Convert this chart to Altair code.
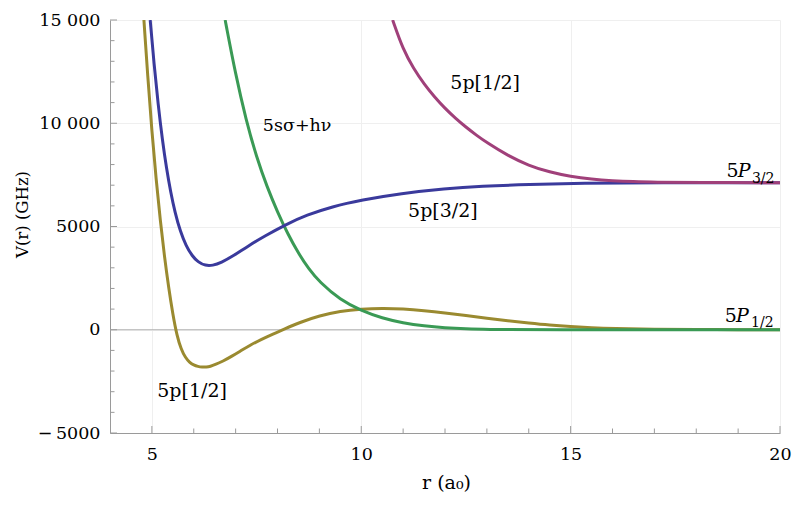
import altair as alt
import pandas as pd

# ---------------- data ----------------
r_olive = [4.81, 4.9, 5.0, 5.1, 5.2, 5.3, 5.4, 5.5, 5.6, 5.7, 5.8, 5.9, 6.0, 6.1, 6.2, 6.3, 6.4, 6.5,
           6.7, 6.9, 7.1, 7.35, 7.6, 7.9, 8.15, 8.55, 9.0, 9.5, 10.0, 10.5, 11.0, 11.5, 12.0, 12.5,
           13.0, 13.5, 14.0, 14.5, 15.0, 15.5, 16.0, 17.0, 18.0, 19.0, 20.0]
v_olive = [15000, 12300, 9600, 7300, 5300, 3550, 2050, 750, -300, -950, -1350, -1580, -1710, -1780,
           -1810, -1810, -1770, -1700, -1520, -1290, -1050, -740, -480, -200, 20, 370, 680, 900, 1000,
           1040, 1010, 930, 820, 690, 560, 430, 320, 220, 150, 100, 65, 25, 10, 3, 0]

r_blue = [4.96, 5.05, 5.15, 5.25, 5.35, 5.45, 5.55, 5.68, 5.82, 5.96, 6.1, 6.28, 6.45, 6.65, 6.95, 7.3,
          7.7, 8.18, 8.7, 9.3, 10.0, 10.95, 12.0, 12.86, 14.0, 15.26, 17.0, 20.0]
v_blue = [15000, 12900, 10900, 9200, 7800, 6650, 5700, 4750, 4050, 3580, 3280, 3100, 3110, 3240, 3580,
          4060, 4540, 5080, 5560, 5960, 6280, 6600, 6830, 6950, 7040, 7095, 7118, 7123]

r_green = [6.75, 7.0, 7.25, 7.5, 7.75, 8.0, 8.25, 8.5, 8.75, 9.0, 9.5, 10.0, 10.5, 11.0, 11.5, 12.0,
           12.5, 13.0, 14.0, 20.0]
v_green = [15000, 12350, 10150, 8350, 6920, 5700, 4620, 3700, 2930, 2320, 1440, 930, 560, 330, 180, 90,
           40, 15, 0, 0]

r_mag = [10.75, 11.0, 11.25, 11.5, 11.75, 12.0, 12.25, 12.5, 12.75, 13.0, 13.5, 14.0, 14.5, 15.0, 15.5,
         16.0, 16.5, 17.0, 18.0, 20.0]
v_mag = [15000, 13560, 12650, 11900, 11270, 10720, 10240, 9810, 9420, 9060, 8430, 7950, 7630, 7420,
         7290, 7215, 7170, 7147, 7129, 7123]

series_names = ["olive", "blue", "green", "magenta"]
series_colors = ["#9a8a30", "#3a3a9c", "#3a9a55", "#a0407a"]

# curve labels
lab_text = ["5p[1/2]", "5p[3/2]", "5p[1/2]"]
lab_r = [12.96, 11.95, 5.96]
lab_v = [11960, 5760, -2950]
photon_text = ["5sσ+hν"]
photon_r = [8.47]
photon_v = [9880]

# asymptote labels 5P_{3/2}, 5P_{1/2}
lvl_num = ["5", "5"]
lvl_num_r = [18.72, 18.68]
lvl_num_v = [7410, 390]
lvl_P = ["P", "P"]
lvl_P_r = [18.99, 18.95]
lvl_sub = ["3/2", "1/2"]
lvl_sub_r = [19.33, 19.31]
lvl_sub_v = [7100, 130]

# ticks
y_major = [-5000, 0, 5000, 10000, 15000]
y_minor = [-4000, -3000, -2000, -1000, 1000, 2000, 3000, 4000, 6000, 7000, 8000, 9000,
           11000, 12000, 13000, 14000]
x_major = [5, 10, 15, 20]
x_minor = [6, 7, 8, 9, 11, 12, 13, 14, 16, 17, 18, 19]

# ---------------- chart ----------------
FONT = "DejaVu Serif"
W, H = 670, 413
xs = alt.Scale(domain=[4, 20], nice=False, zero=False)
ys = alt.Scale(domain=[-5000, 15000], nice=False, zero=False)

AX = "#9a9a9a"
GRID = "#efefef"

x_axis = alt.Axis(values=x_major, ticks=False, labelFont=FONT, labelFontSize=17.5, labelColor="black",
                  labelFontWeight="normal",
                  labelPadding=12, labelFlush=False, domainColor=AX, gridColor=GRID,
                  title="r (a₀)", titleFont=FONT, titleFontSize=19, titleFontWeight="normal",
                  titleColor="black", titleX=336, titleY=55, titleBaseline="alphabetic",
                  titleAlign="center")
y_axis = alt.Axis(values=y_major, ticks=False, labelFont=FONT, labelFontSize=17.5, labelColor="black",
                  labelFontWeight="normal",
                  labelPadding=10, domainColor=AX, gridColor=GRID,
                  labelExpr="datum.value == 15000 ? '15 000' : datum.value == 10000 ? '10 000' : "
                            "datum.value == -5000 ? '\u2212\u20095000' : datum.value == 5000 ? '5000' : '0'",
                  title="V(r) (GHz)", titleFont=FONT, titleFontSize=16.5, titleFontWeight="normal",
                  titleColor="black", titleX=-88, titleY=194, titleBaseline="middle", titleAlign="center")


def curve(name, rs, vs):
    df = pd.DataFrame({"r": rs, "V": vs, "series": name})
    return alt.Chart(df).mark_line(strokeWidth=3, interpolate="basis", clip=True).encode(
        x=alt.X("r:Q", scale=xs, axis=x_axis),
        y=alt.Y("V:Q", scale=ys, axis=y_axis),
        color=alt.Color("series:N", scale=alt.Scale(domain=series_names, range=series_colors),
                        legend=None),
    )


zero_line = alt.Chart(pd.DataFrame({"V": [0]})).mark_rule(color="#b0b0b0", strokeWidth=1).encode(
    y=alt.Y("V:Q", scale=ys), x=alt.value(0), x2=alt.value(W))

ytick_maj = alt.Chart(pd.DataFrame({"V": y_major})).mark_rule(color=AX, strokeWidth=1).encode(
    y=alt.Y("V:Q", scale=ys), x=alt.value(0), x2=alt.value(7))
ytick_min = alt.Chart(pd.DataFrame({"V": y_minor})).mark_rule(color=AX, strokeWidth=1).encode(
    y=alt.Y("V:Q", scale=ys), x=alt.value(0), x2=alt.value(4.5))
xtick_maj = alt.Chart(pd.DataFrame({"r": x_major})).mark_rule(color=AX, strokeWidth=1).encode(
    x=alt.X("r:Q", scale=xs), y=alt.value(H), y2=alt.value(H - 7))
xtick_min = alt.Chart(pd.DataFrame({"r": x_minor})).mark_rule(color=AX, strokeWidth=1).encode(
    x=alt.X("r:Q", scale=xs), y=alt.value(H), y2=alt.value(H - 4.5))

labels = alt.Chart(pd.DataFrame({"r": lab_r, "V": lab_v, "t": lab_text})).mark_text(
    font=FONT, fontSize=19, color="black", align="center", baseline="middle").encode(
    x=alt.X("r:Q", scale=xs), y=alt.Y("V:Q", scale=ys), text="t:N")
photon = alt.Chart(pd.DataFrame({"r": photon_r, "V": photon_v, "t": photon_text})).mark_text(
    font=FONT, fontSize=17.5, color="black", align="center", baseline="middle").encode(
    x=alt.X("r:Q", scale=xs), y=alt.Y("V:Q", scale=ys), text="t:N")

lvl5 = alt.Chart(pd.DataFrame({"r": lvl_num_r, "V": lvl_num_v, "t": lvl_num})).mark_text(
    font=FONT, fontSize=19, color="black", align="left", baseline="alphabetic").encode(
    x=alt.X("r:Q", scale=xs), y=alt.Y("V:Q", scale=ys), text="t:N")
lvlP = alt.Chart(pd.DataFrame({"r": lvl_P_r, "V": lvl_num_v, "t": lvl_P})).mark_text(
    font=FONT, fontSize=19, fontStyle="italic", color="black", align="left", baseline="alphabetic").encode(
    x=alt.X("r:Q", scale=xs), y=alt.Y("V:Q", scale=ys), text="t:N")
lvlS = alt.Chart(pd.DataFrame({"r": lvl_sub_r, "V": lvl_sub_v, "t": lvl_sub})).mark_text(
    font=FONT, fontSize=14, color="black", align="left", baseline="alphabetic").encode(
    x=alt.X("r:Q", scale=xs), y=alt.Y("V:Q", scale=ys), text="t:N")

chart = alt.layer(
    zero_line,
    curve("olive", r_olive, v_olive),
    curve("green", r_green, v_green),
    curve("blue", r_blue, v_blue),
    curve("magenta", r_mag, v_mag),
    ytick_maj, ytick_min, xtick_maj, xtick_min,
    labels, photon, lvl5, lvlP, lvlS,
).properties(
    width=W, height=H,
    padding={"left": 102, "top": 12, "right": 12, "bottom": 70},
    autosize=alt.AutoSizeParams(type="none"),
).configure_view(stroke=None).configure_axis(grid=True)

chart.save("out.html", embed_options={"renderer": "svg", "actions": False})
